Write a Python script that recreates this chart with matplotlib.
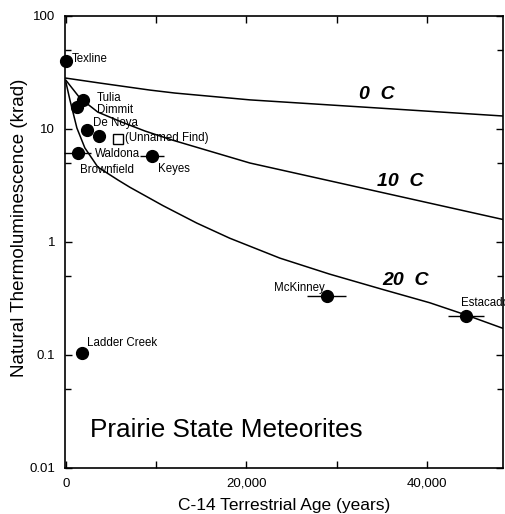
import matplotlib
matplotlib.use('Agg')
import matplotlib.pyplot as plt

plt.rcParams['font.family'] = ['Liberation Sans', 'DejaVu Sans']

# fading curves (years, krad)
age_0c = [0, 3760, 9300, 12070, 20370, 34760, 48600]
tl_0c = [28.2, 25.5, 22.1, 20.8, 18.1, 15.3, 13.0]

age_10c = [0, 1550, 3540, 6200, 8750, 11740, 20380, 34770, 48600]
tl_10c = [27.0, 18.8, 14.1, 11.5, 9.6, 8.0, 5.0, 2.77, 1.57]

age_20c = [0, 443, 1218, 2100, 3540, 5760, 7090, 10740, 14500, 18150,
           23700, 29200, 35100, 40300, 44400, 48600]
tl_20c = [26.0, 18.1, 10.2, 6.8, 4.6, 3.54, 3.05, 2.1, 1.47, 1.08,
          0.72, 0.52, 0.38, 0.29, 0.225, 0.17]

# meteorites
ages = [0, 1880, 1220, 2320, 3650, 1330, 9520, 1770, 28900, 44300]
tl = [40.0, 18.1, 15.7, 9.8, 8.7, 6.1, 5.8, 0.104, 0.333, 0.221]
age_err = [0, 0, 0, 0, 0, 1500, 1300, 0, 2150, 2000]

unnamed_age = [5760]
unnamed_tl = [8.2]

fig = plt.figure(figsize=(5.05, 5.14), dpi=100)
ax = fig.add_axes([0.1287, 0.0895, 0.867, 0.8794])

for a, t in [(age_0c, tl_0c), (age_10c, tl_10c), (age_20c, tl_20c)]:
    ax.plot(a, t, color='black', lw=1.1)

ax.errorbar(ages, tl, xerr=age_err, fmt='o', color='black', ms=8.5,
            elinewidth=1.0, capsize=0, clip_on=False, zorder=3)
ax.plot(unnamed_age, unnamed_tl, 's', mfc='white', mec='black', ms=7,
        mew=1.0, zorder=3)

# point labels
lab = dict(fontsize=8.3, va='center', ha='left')
ax.text(700, 41.6, 'Texline', **lab)
ax.text(3430, 18.8, 'Tulia', **lab)
ax.text(3430, 14.6, 'Dimmit', **lab)
ax.text(2990, 11.3, 'De Noya', **lab)
ax.text(6550, 8.4, '(Unnamed Find)', **lab)
ax.text(3210, 6.0, 'Waldona', **lab)
ax.text(1550, 4.3, 'Brownfield', **lab)
ax.text(10200, 4.4, 'Keyes', **lab)
ax.text(2320, 0.128, 'Ladder Creek', **lab)
ax.text(23100, 0.395, 'McKinney', **lab)
ax.text(43800, 0.29, 'Estacado', **lab)

# temperature labels
tc = dict(fontsize=14, fontweight='bold', fontstyle='italic', va='center', ha='left')
ax.text(32500, 20.0, '0  C', **tc)
ax.text(34500, 3.4, '10  C', **tc)
ax.text(35100, 0.46, '20  C', **tc)

ax.text(2700, 0.0215, 'Prairie State Meteorites', fontsize=18.8, va='center', ha='left')

ax.set_yscale('log')
ax.set_ylim(0.01, 100)
ax.set_xlim(-100, 48400)
ax.set_yticks([0.01, 0.1, 1, 10, 100])
ax.set_yticklabels(['0.01', '0.1', '1', '10', '100'])
ax.set_yticks([0.05, 0.5, 5, 50], minor=True)
ax.set_yticklabels([], minor=True)
ax.set_xticks([0, 10000, 20000, 30000, 40000])
ax.set_xticklabels(['0', '', '20,000', '', '40,000'])

ax.tick_params(which='both', direction='in', top=True, right=True,
               labelsize=9.5, width=1.0)
ax.tick_params(which='major', length=5, pad=7)
ax.tick_params(which='minor', length=4)
for s in ax.spines.values():
    s.set_linewidth(1.2)

ax.set_xlabel('C-14 Terrestrial Age (years)', fontsize=12.5, labelpad=6)
ax.set_ylabel('Natural Thermoluminescence (krad)', fontsize=13.5)
ax.yaxis.set_label_coords(-0.085, 0.531)

fig.savefig('out.png', dpi=100)
